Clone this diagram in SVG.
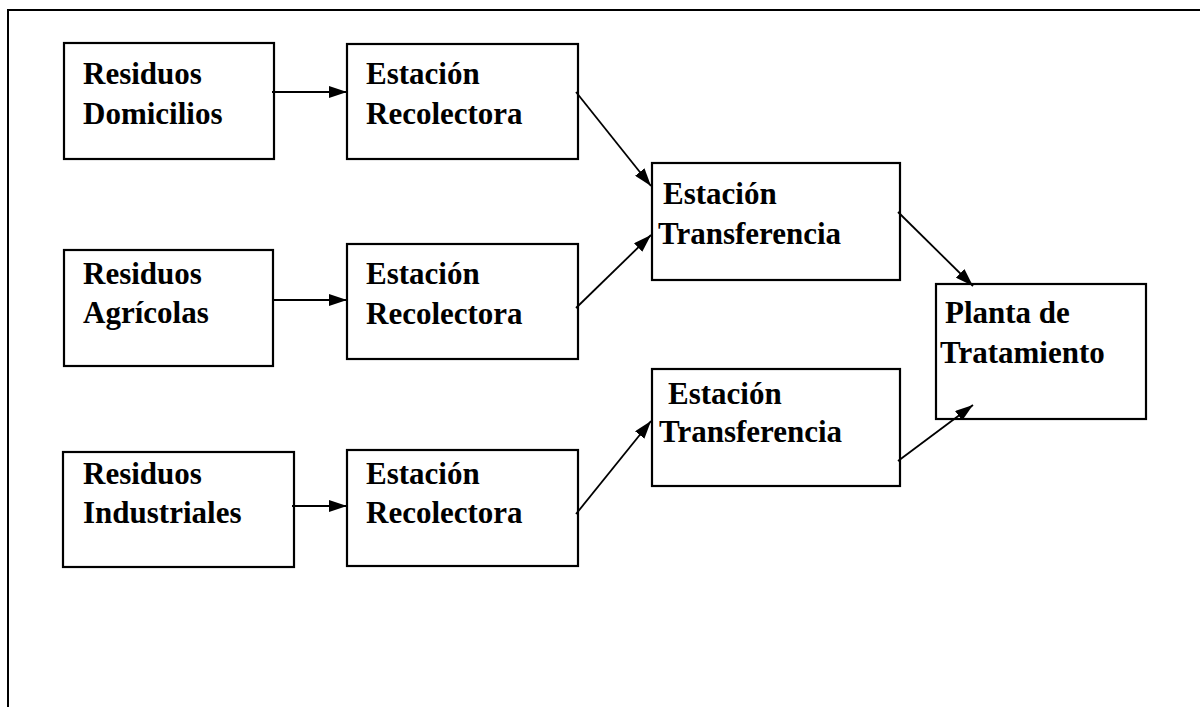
<svg xmlns="http://www.w3.org/2000/svg" width="1200" height="707" viewBox="0 0 1200 707">
<defs>
<style>
.box{fill:#fff;stroke:#000;stroke-width:2.2}
.lbl{font-family:"Liberation Serif","Times New Roman",serif;font-weight:bold;font-size:31px;fill:#000}
.con{stroke:#000;stroke-width:1.8;fill:none;marker-end:url(#ah)}
.frame{stroke:#000;stroke-width:2;fill:none}
</style>
<marker id="ah" markerUnits="userSpaceOnUse" markerWidth="18" markerHeight="12" refX="18" refY="6" orient="auto" viewBox="0 0 18 12">
<path d="M0,0 L18,6 L0,12 z" fill="#000"/>
</marker>
</defs>
<rect width="1200" height="707" fill="#fff"/>
<path class="frame" d="M8,707 L8,10 L1200,10"/>
<g id="residuos-domicilios"><rect class="box" x="64" y="43" width="210" height="116"/><text class="lbl" x="83" y="84">Residuos</text><text class="lbl" x="83" y="124">Domicilios</text></g>
<g id="residuos-agricolas"><rect class="box" x="64" y="250" width="209" height="116"/><text class="lbl" x="83" y="284">Residuos</text><text class="lbl" x="83" y="323">Agrícolas</text></g>
<g id="residuos-industriales"><rect class="box" x="63" y="452" width="231" height="115"/><text class="lbl" x="83" y="484">Residuos</text><text class="lbl" x="83" y="523">Industriales</text></g>
<g id="recolectora-1"><rect class="box" x="347" y="44" width="231" height="115"/><text class="lbl" x="366" y="84">Estación</text><text class="lbl" x="366" y="124">Recolectora</text></g>
<g id="recolectora-2"><rect class="box" x="347" y="244" width="231" height="115"/><text class="lbl" x="366" y="284">Estación</text><text class="lbl" x="366" y="324">Recolectora</text></g>
<g id="recolectora-3"><rect class="box" x="347" y="450" width="231" height="116"/><text class="lbl" x="366" y="484">Estación</text><text class="lbl" x="366" y="523">Recolectora</text></g>
<g id="transferencia-1"><rect class="box" x="652" y="163" width="248" height="117"/><text class="lbl" x="663" y="204">Estación</text><text class="lbl" x="658" y="244">Transferencia</text></g>
<g id="transferencia-2"><rect class="box" x="652" y="369" width="248" height="117"/><text class="lbl" x="668" y="404">Estación</text><text class="lbl" x="659" y="442">Transferencia</text></g>
<g id="planta-tratamiento"><rect class="box" x="936" y="284" width="210" height="135"/><text class="lbl" x="945" y="323">Planta de</text><text class="lbl" x="940" y="363">Tratamiento</text></g>
<g id="connectors">
<line class="con" x1="272" y1="92" x2="347" y2="92"/>
<line class="con" x1="272" y1="300" x2="347" y2="300"/>
<line class="con" x1="292" y1="506" x2="347" y2="506"/>
<line class="con" x1="576" y1="92" x2="651" y2="186"/>
<line class="con" x1="576" y1="308" x2="651" y2="235"/>
<line class="con" x1="576" y1="514" x2="651" y2="421"/>
<line class="con" x1="898" y1="212" x2="973" y2="286"/>
<line class="con" x1="898" y1="461" x2="973" y2="405"/>
</g>
</svg>
